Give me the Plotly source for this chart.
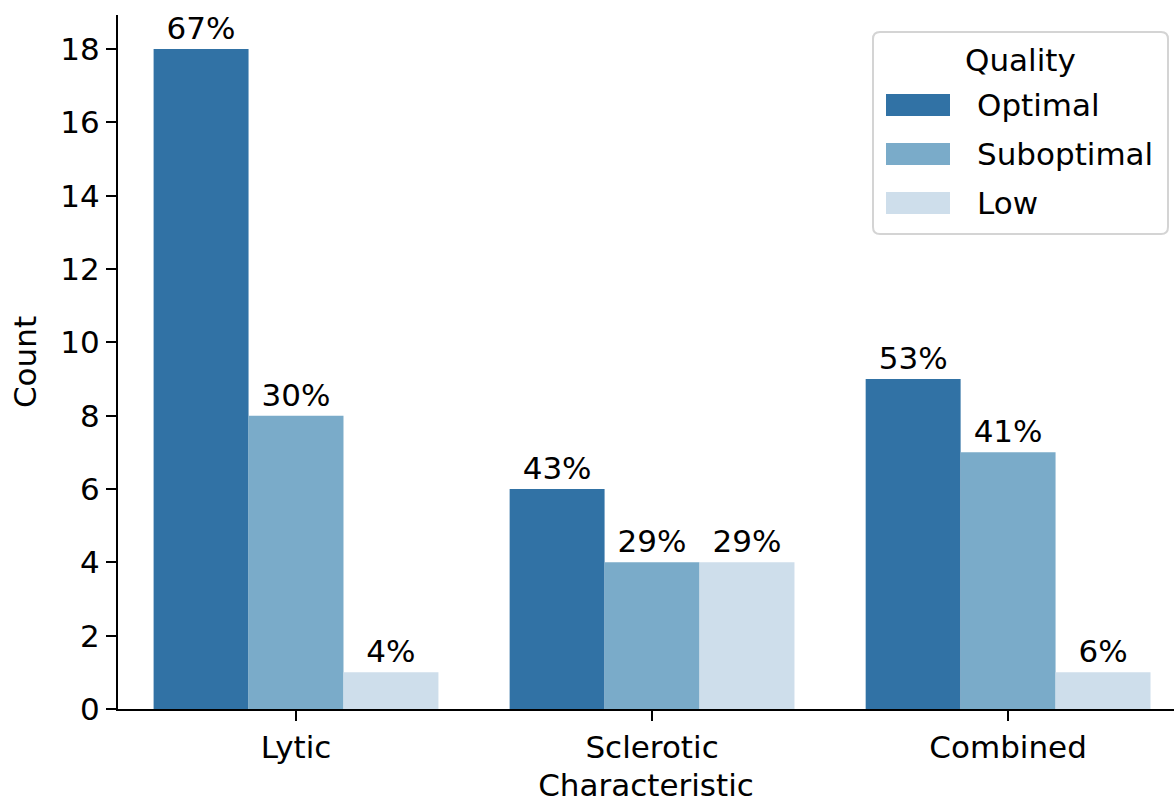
import plotly.graph_objects as go

categories = ["Lytic", "Sclerotic", "Combined"]
qualities = ["Optimal", "Suboptimal", "Low"]
optimal = [18, 6, 9]
suboptimal = [8, 4, 7]
low = [1, 4, 1]
colors = ["#3172a5", "#7aabc9", "#cedeeb"]

series = [optimal, suboptimal, low]
totals = [sum(v) for v in zip(*series)]

FONT = "DejaVu Sans"
FS = 31
W, H = 1174, 805
ML, MR, MT, MB = 118, 0, 15, 96
PW, PH = W - ML - MR, H - MT - MB


def px(x):
    return (x - ML) / PW


def py(y):
    return (H - MB - y) / PH


def rounded_box(x0, y0, x1, y1, r):
    # pixel coords (y down) -> paper path with rounded corners
    rx, ry = r / PW, r / PH
    X0, X1 = px(x0), px(x1)
    Yt, Yb = py(y0), py(y1)
    return (f"M{X0 + rx},{Yt} L{X1 - rx},{Yt} Q{X1},{Yt} {X1},{Yt - ry} "
            f"L{X1},{Yb + ry} Q{X1},{Yb} {X1 - rx},{Yb} "
            f"L{X0 + rx},{Yb} Q{X0},{Yb} {X0},{Yb + ry} "
            f"L{X0},{Yt - ry} Q{X0},{Yt} {X0 + rx},{Yt} Z")


fig = go.Figure()
for name, vals, col in zip(qualities, series, colors):
    labels = [f"{round(100 * v / t)}%" for v, t in zip(vals, totals)]
    fig.add_trace(go.Bar(
        x=categories, y=vals, name=name,
        marker=dict(color=col, line=dict(width=0)),
        text=labels, textposition="outside", cliponaxis=False,
        textfont=dict(size=FS, color="black", family=FONT),
        showlegend=False,
    ))

# matplotlib-style legend box
shapes = [dict(type="path", xref="paper", yref="paper",
               path=rounded_box(873, 32, 1168, 234, 7),
               line=dict(color="#d4d4d4", width=2), fillcolor="white",
               layer="above")]
annotations = [dict(text="Quality", xref="paper", yref="paper",
                    x=px(1020), y=py(60), xanchor="center", yanchor="middle",
                    showarrow=False, font=dict(size=FS, family=FONT, color="black"))]
for i, (name, col) in enumerate(zip(qualities, colors)):
    yc = 105 + i * 49
    shapes.append(dict(type="rect", xref="paper", yref="paper",
                       x0=px(886), x1=px(950), y0=py(yc + 11), y1=py(yc - 11),
                       line=dict(width=0), fillcolor=col, layer="above"))
    annotations.append(dict(text=name, xref="paper", yref="paper",
                            x=px(975), y=py(yc), xanchor="left", yanchor="middle",
                            showarrow=False,
                            font=dict(size=FS, family=FONT, color="black")))

fig.update_layout(
    width=W, height=H,
    margin=dict(l=ML, r=MR, t=MT, b=MB),
    plot_bgcolor="white", paper_bgcolor="white",
    font=dict(family=FONT, size=FS, color="black"),
    barmode="group", bargap=0.2, bargroupgap=0,
    showlegend=False,
    shapes=shapes, annotations=annotations,
    xaxis=dict(
        range=[-0.5, 2.466], showline=True, linecolor="black", linewidth=2,
        ticks="outside", ticklen=10, tickwidth=2, tickcolor="black",
        tickfont=dict(size=FS),
        title=dict(text="Characteristic", standoff=10, font=dict(size=FS)),
        showgrid=False, zeroline=False, automargin=False,
    ),
    yaxis=dict(
        range=[0, 18.93], showline=True, linecolor="black", linewidth=2,
        ticks="outside", ticklen=10, tickwidth=2, tickcolor="black",
        tickmode="array", tickvals=list(range(0, 19, 2)),
        tickfont=dict(size=FS),
        title=dict(text="Count", standoff=14, font=dict(size=FS)),
        showgrid=False, zeroline=False, automargin=False,
    ),
)

fig.write_html("out.html", config={"displayModeBar": False},
               post_script="document.body.style.margin='0';")
